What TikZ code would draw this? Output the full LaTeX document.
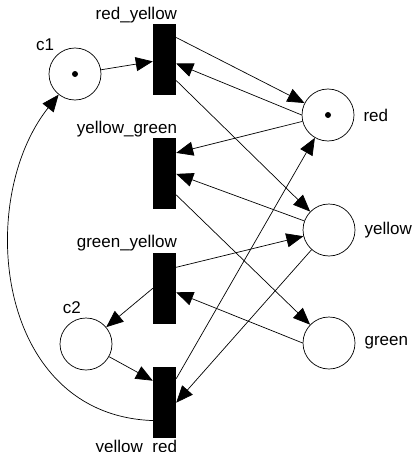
\documentclass[tikz,border=0pt]{standalone}
\usepackage{fontspec}
\setmainfont{Liberation Sans}
\usetikzlibrary{arrows.meta,positioning,calc}

\begin{document}
\begin{tikzpicture}[
  x=1pt, y=-1pt,
  node distance=43pt,
  place/.style={circle, draw, line width=0.7pt, minimum size=52pt, inner sep=0pt},
  trans/.style={rectangle, fill=black, minimum width=23pt, minimum height=71pt, inner sep=0pt},
  token/.style={circle, fill=black, minimum size=6pt, inner sep=0pt},
  lbl/.style={font=\fontsize{17}{20}\selectfont, inner sep=1pt},
  arc/.style={-{Triangle[length=17pt,width=14pt]}, line width=0.7pt}
]
\useasboundingbox (0,0) rectangle (412,452);
% places
\node[place] (c1) at (75,74) {};
\node[place] (red) at (328,115) {};
\node[place] (yellow) at (329,230) {};
\node[place] (green) at (329,343) {};
\node[place] (c2) at (86,344) {};
\node[token] (tok1) at (c1) {};
\node[token] (tok2) at (red) {};
% transitions
\node[trans] (ry) at (164.5,59.5) {};
\node[trans, below=of ry] (yg) {};
\node[trans, below=of yg] (gy) {};
\node[trans, below=of gy] (yr) {};
% labels
\node[lbl, anchor=south east] (ryl) at ([xshift=2pt]ry.north east) {red\_yellow};
\node[lbl, anchor=south east] (ygl) at ([xshift=2pt]yg.north east) {yellow\_green};
\node[lbl, anchor=south east] (gyl) at ([xshift=2pt]gy.north east) {green\_yellow};
\node[lbl, anchor=north east] (yrl) at ([xshift=2pt,yshift=-1pt]yr.south east) {yellow\_red};
\node[lbl, anchor=south east] (c1l) at ([xshift=-1pt,yshift=4pt]c1.north west) {c1};
\node[lbl, anchor=south east] (c2l) at ([xshift=-4pt,yshift=3pt]c2.north) {c2};
\node[lbl, anchor=west] (redl) at ([xshift=8pt]red.east) {red};
\node[lbl, anchor=west] (yellowl) at ([xshift=8pt]yellow.east) {yellow};
\node[lbl, anchor=west] (greenl) at ([xshift=8pt]green.east) {green};
% arcs
\draw[arc] (c1) -- (ry);
\draw[arc] ([yshift=22pt]ry.east) -- (red);
\draw[arc] (red.west) -- ([yshift=-4pt]ry.east);
\draw[arc] ([yshift=-21pt]ry.east) -- (yellow);
\draw[arc] (red) -- ([yshift=21pt]yg.east);
\draw[arc] (yellow) -- (yg.east);
\draw[arc] ([yshift=-21pt]yg.east) -- (green);
\draw[arc] ([yshift=21pt]gy.east) -- (yellow);
\draw[arc] (gy.west) -- (c2);
\draw[arc] (green.west) -- ([yshift=-4pt]gy.east);
\draw[arc] (c2) -- ([yshift=22pt]yr.west);
\draw[arc] ([yshift=24pt]yr.east) -- (red);
\draw[arc] (yellow) -- (yr.east);
\draw[arc] ($(yr.west)!0.5!(yr.south west)$) .. controls (-5,415) and (-25,200) .. (c1);
\end{tikzpicture}
\end{document}
